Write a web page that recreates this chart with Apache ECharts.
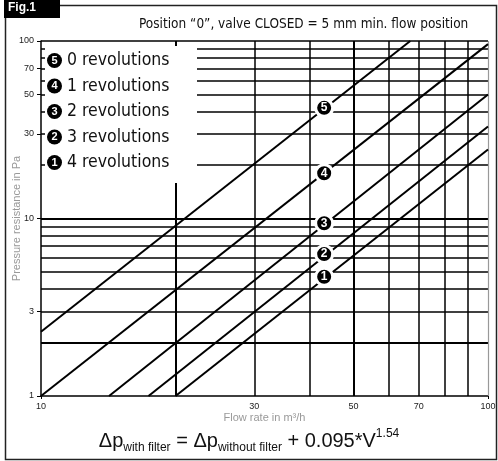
<!DOCTYPE html>
<html>
<head>
<meta charset="utf-8">
<script src="https://cdn.jsdelivr.net/npm/echarts@6/dist/echarts.min.js"></script>
<style>
  html, body { margin: 0; padding: 0; background: #fff; }
  #main { width: 498px; height: 461px; }
</style>
</head>
<body>
<div id="main"></div>
<script>
// line names (legend) and the numbers drawn in black circles
var revNames = ['0 revolutions', '1 revolutions', '2 revolutions', '3 revolutions', '4 revolutions'];
var revDigits = ['5', '4', '3', '2', '1'];

// each line: [flow m3/h, pressure Pa] at both ends
var rev0 = [[10, 2.3], [67, 100]];
var rev1 = [[10, 1], [100, 96]];
var rev2 = [[14.2, 1], [100, 50]];
var rev3 = [[17.4, 1], [100, 33]];
var rev4 = [[20, 1], [100, 24.5]];
var revLines = [rev0, rev1, rev2, rev3, rev4];

// where the numbered circles sit on the lines
var markPoints = [[43, 42], [43, 18], [43, 9.4], [43, 6.3], [43, 4.7]];

// grid lines and tick labels
var xGrid = [20, 30, 40, 50, 60, 70, 80, 90];
var yGrid = [2, 3, 4, 5, 6, 7, 8, 9, 10, 20, 30, 40, 50, 60, 70, 80, 90, 100];
var xLabels = [10, 30, 50, 70, 100];
var yLabels = [1, 3, 10, 30, 50, 70, 100];

var narrow = "'DejaVu Sans Condensed', sans-serif";

var myChart = echarts.init(document.getElementById('main'));

var gridLines = [];
xGrid.forEach(function (v) {
    gridLines.push({ xAxis: v, lineStyle: { width: (v == 20 || v == 50) ? 2 : 1.5 } });
});
yGrid.forEach(function (v) {
    gridLines.push({ yAxis: v, lineStyle: { width: (v == 10 || v == 2) ? 2 : 1.6 } });
});
gridLines.push({ xAxis: 100, lineStyle: { color: '#999', width: 1.2 } });

var series = [{
    name: 'grid',
    type: 'line',
    data: [],
    silent: true,
    markLine: {
        silent: true,
        z: 2,
        symbol: ['none', 'none'],
        label: { show: false },
        animation: false,
        lineStyle: { color: '#000', type: 'solid' },
        data: gridLines
    }
}];

revLines.forEach(function (d, i) {
    series.push({
        name: revNames[i],
        type: 'line',
        data: d,
        symbol: 'none',
        z: 3,
        lineStyle: { color: '#000', width: 2 },
        itemStyle: { color: '#000' }
    });
});

series.push({
    name: 'marks',
    type: 'scatter',
    data: markPoints,
    z: 7,
    symbolSize: 17,
    itemStyle: { color: '#000', borderColor: '#fff', borderWidth: 3, opacity: 1 },
    label: {
        show: true,
        position: 'inside',
        color: '#fff',
        fontWeight: 'bold',
        fontSize: 12,
        fontFamily: 'Arial, sans-serif',
        formatter: function (p) { return revDigits[p.dataIndex]; }
    }
});

option = {
    animation: false,
    backgroundColor: '#fff',
    title: {
        text: 'Position “0”, valve CLOSED = 5 mm min. flow position',
        left: 134,
        top: 12,
        textStyle: { fontSize: 13.5, fontWeight: 'normal', color: '#111', fontFamily: narrow }
    },
    legend: {
        orient: 'vertical',
        left: 36,
        top: 45,
        z: 10,
        itemWidth: 0,
        itemHeight: 0,
        itemGap: 4.5,
        data: revNames,
        selectedMode: false,
        formatter: function (name) {
            return '{n|' + revDigits[revNames.indexOf(name)] + '} ' + name;
        },
        textStyle: {
            fontSize: 17.5,
            lineHeight: 21,
            color: '#111',
            fontFamily: narrow,
            rich: {
                n: {
                    backgroundColor: '#000',
                    color: '#fff',
                    borderRadius: 8,
                    width: 15,
                    height: 15,
                    align: 'center',
                    fontSize: 11,
                    fontWeight: 'bold',
                    fontFamily: 'Arial, sans-serif'
                }
            }
        }
    },
    grid: { left: 41, right: 10, top: 41, bottom: 65, outerBoundsMode: 'none' },
    xAxis: {
        type: 'log',
        logBase: 10,
        min: 10,
        max: 100,
        name: 'Flow rate in m³/h',
        nameLocation: 'middle',
        nameGap: 16,
        nameMoveOverlap: false,
        nameTextStyle: { color: '#999', fontSize: 11, fontFamily: 'Arial, sans-serif' },
        axisLine: { lineStyle: { color: '#000', width: 1.5 } },
        axisTick: { length: 3, lineStyle: { color: '#000' }, customValues: [10, 100] },
        axisLabel: { customValues: xLabels, fontSize: 9, color: '#222', margin: 6, fontFamily: 'Arial, sans-serif' },
        splitLine: { show: false },
        minorTick: { show: false }
    },
    yAxis: {
        type: 'log',
        logBase: 10,
        min: 1,
        max: 100,
        name: 'Pressure resistance in Pa',
        nameLocation: 'middle',
        nameGap: 19,
        nameMoveOverlap: false,
        nameTextStyle: { color: '#999', fontSize: 11, fontFamily: 'Arial, sans-serif' },
        axisLine: { lineStyle: { color: '#000', width: 1.5 } },
        axisTick: { length: 4, lineStyle: { color: '#000' }, customValues: yLabels },
        axisLabel: { customValues: yLabels, fontSize: 9, color: '#222', margin: 7, fontFamily: 'Arial, sans-serif' },
        splitLine: { show: false }
    },
    graphic: [
        {
            type: 'rect',
            z: 8,
            shape: { x: 45, y: 46, width: 152, height: 137 },
            style: { fill: '#fff' }
        },
        {
            type: 'rect',
            z: 1,
            shape: { x: 5.5, y: 5.5, width: 491, height: 454 },
            style: { fill: 'none', stroke: '#222', lineWidth: 1.5 }
        },
        {
            type: 'rect',
            z: 8,
            shape: { x: 4, y: 0, width: 56, height: 18 },
            style: { fill: '#000' }
        },
        {
            type: 'text',
            z: 9,
            left: 8,
            top: 2,
            style: { text: 'Fig.1', fill: '#fff', font: 'bold 12px Arial, sans-serif' }
        },
        {
            type: 'text',
            z: 9,
            left: 'center',
            top: 428,
            style: {
                text: '{b|Δp}{s|with filter}{b| = Δp}{s|without filter}{b| + 0.095*V}{p|1.54}',
                fill: '#111',
                rich: {
                    b: { fontSize: 20, fontFamily: 'Arial, sans-serif', lineHeight: 26, verticalAlign: 'middle' },
                    s: { fontSize: 12, fontFamily: 'Arial, sans-serif', lineHeight: 26, verticalAlign: 'bottom', padding: [10, 0, 0, 0] },
                    p: { fontSize: 12, fontFamily: 'Arial, sans-serif', lineHeight: 26, verticalAlign: 'top' }
                }
            }
        }
    ],
    series: series
};

myChart.setOption(option);
</script>
</body>
</html>
